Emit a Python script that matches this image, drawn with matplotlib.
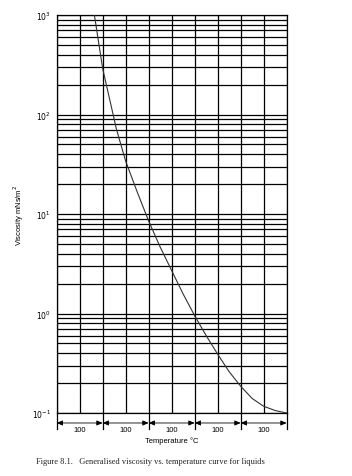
import numpy as np
import matplotlib
matplotlib.use("Agg")
import matplotlib.pyplot as plt

# values
temp = [82, 100, 130, 150, 175, 200, 225, 250, 275, 300, 325, 350, 375, 400, 425, 450, 475, 500]
visc = [1000, 290, 71, 34, 16.7, 8.5, 4.66, 2.7, 1.57, 0.95, 0.6, 0.39, 0.26, 0.186, 0.14, 0.117, 0.106, 0.1]

span_edges = [0, 100, 200, 300, 400, 500]
span_labels = ["100", "100", "100", "100", "100"]
decades = [0.1, 1, 10, 100, 1000]
decade_labels = [r"$10^{-1}$", r"$10^{0}$", r"$10^{1}$", r"$10^{2}$", r"$10^{3}$"]

plt.rcParams["font.family"] = ["Liberation Sans", "DejaVu Sans"]

fig = plt.figure(figsize=(3.52, 4.77), dpi=100)
ax = fig.add_axes([0.161, 0.132, 0.6534, 0.8344])

ax.plot(temp, visc, color="#333333", lw=0.8, zorder=3)

ax.set_yscale("log")
ax.set_xlim(0, 500)
ax.set_ylim(0.1, 1000)

ax.set_xticks(np.arange(0, 501, 50))
ax.set_yticks(decades)
ax.set_yticklabels(decade_labels)
ax.yaxis.set_minor_locator(matplotlib.ticker.LogLocator(base=10, subs=np.arange(2, 10)))
ax.yaxis.set_minor_formatter(matplotlib.ticker.NullFormatter())
ax.tick_params(which="both", length=0, labelbottom=False, labelsize=5.5, pad=4)
ax.grid(which="both", color="black", lw=0.9)
for s in ax.spines.values():
    s.set_linewidth(0.9)

ax.set_ylabel("Viscosity mNs/m$^2$", fontsize=5.5, labelpad=4)

# dimension arrows under the axis
trans = ax.get_xaxis_transform()
for x in span_edges:
    ax.plot([x, x], [0, -0.04], color="black", lw=0.9, transform=trans, clip_on=False)
for i, lab in enumerate(span_labels):
    a, b = span_edges[i], span_edges[i + 1]
    ax.annotate("", xy=(a, -0.025), xytext=(b, -0.025), xycoords=trans, textcoords=trans,
                arrowprops=dict(arrowstyle="<|-|>,head_length=0.35,head_width=0.15",
                                color="black", lw=0.6, shrinkA=0, shrinkB=0))
    ax.text((a + b) / 2, -0.033, lab, transform=trans, ha="center", va="top", fontsize=5.5)

ax.text(250, -0.058, "Temperature \u00b0C", transform=trans, ha="center", va="top", fontsize=5.5)

fig.text(0.102, 0.031, "Figure 8.1.   Generalised viscosity vs. temperature curve for liquids",
         family="Liberation Serif", fontsize=6.0, color="#222222", va="center", ha="left")

fig.savefig("out.png", dpi=100)
